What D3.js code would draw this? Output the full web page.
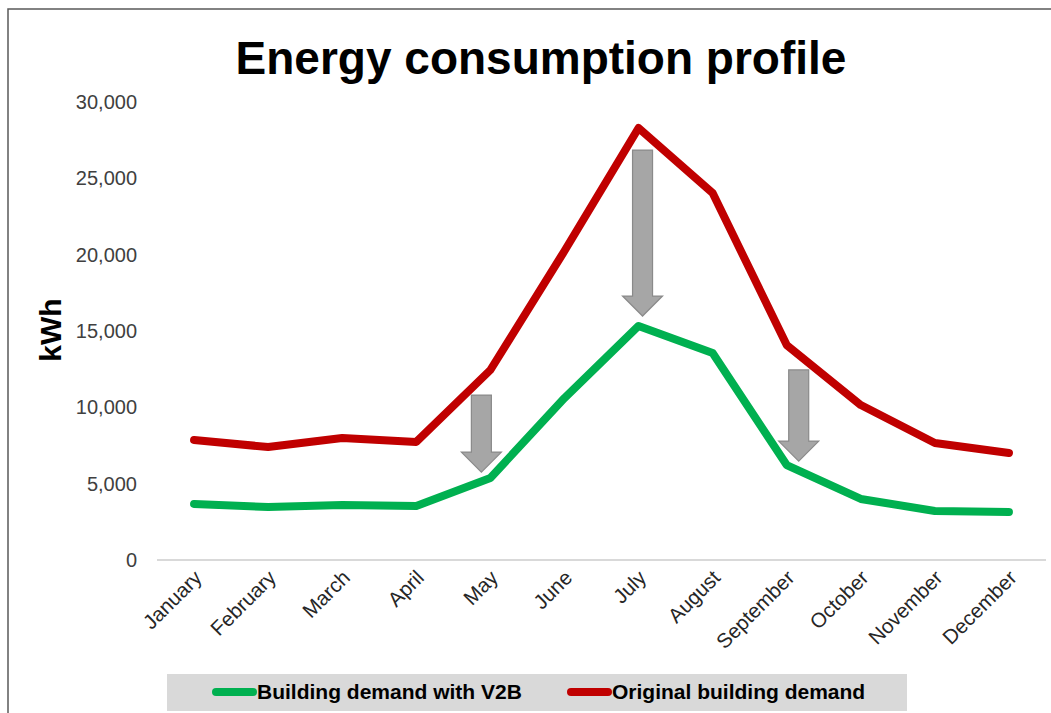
<!DOCTYPE html>
<html>
<head>
<meta charset="utf-8">
<script src="https://cdn.jsdelivr.net/npm/d3@7"></script>
<style>
  html, body { margin: 0; padding: 0; background: #fff; }
  svg { display: block; font-family: "Liberation Sans", Arial, sans-serif; }
</style>
</head>
<body>
<svg id="chart" width="1051" height="713"></svg>
<script>
const months = ["January","February","March","April","May","June","July","August","September","October","November","December"];
const withV2B = [3670, 3470, 3600, 3540, 5370, 10610, 15330, 13560, 6220, 4000, 3210, 3140];
const original = [7860, 7400, 7990, 7730, 12445, 20240, 28300, 24040, 14080, 10150, 7660, 7010];
const yTicks = [0, 5000, 10000, 15000, 20000, 25000, 30000];
const seriesNames = ["Building demand with V2B", "Original building demand"];
const seriesColors = ["#00b050", "#c00000"];
// reduction arrows: month, from value, to value
const arrowMonths = ["May", "July", "September"];
const arrowFrom = [10800, 26850, 12450];
const arrowTo = [5760, 15980, 6480];
const arrowShift = [-9, 4, 12];

const svg = d3.select("#chart");

// outer frame
svg.append("rect").attr("x", 8).attr("y", 9).attr("width", 1100).attr("height", 760)
  .attr("fill", "none").attr("stroke", "#595959").attr("stroke-width", 1.5);

const x = d3.scaleBand().domain(months).range([157, 1046]);
const y = d3.scaleLinear().domain([0, 30000]).range([560, 102]);
const cx = m => x(m) + x.bandwidth() / 2;

// title
svg.append("text").attr("x", 541).attr("y", 74).attr("text-anchor", "middle")
  .attr("font-size", 46).attr("font-weight", "bold").attr("fill", "#000")
  .text("Energy consumption profile");

// y axis
const yAxis = d3.axisLeft(y).tickValues(yTicks).tickFormat(d3.format(",")).tickSize(0).tickPadding(0);
const gy = svg.append("g").attr("transform", "translate(137,0)").call(yAxis);
gy.select(".domain").remove();
gy.selectAll("text").attr("font-size", 20).attr("fill", "#404040")
  .attr("font-family", "Liberation Sans, Arial, sans-serif");

// baseline gridline at 0
svg.append("line").attr("x1", 157).attr("x2", 1046).attr("y1", y(0)).attr("y2", y(0))
  .attr("stroke", "#d9d9d9").attr("stroke-width", 2);

// x axis labels
const xAxis = d3.axisBottom(x).tickSize(0).tickPadding(0);
const gx = svg.append("g").attr("transform", `translate(0,${y(0)})`).call(xAxis);
gx.select(".domain").remove();
gx.selectAll("text")
  .attr("font-size", 20.5).attr("fill", "#262626")
  .attr("font-family", "Liberation Sans, Arial, sans-serif")
  .attr("text-anchor", "end")
  .attr("dy", null).attr("y", null)
  .attr("transform", "translate(9,19) rotate(-45)");

// y axis title
svg.append("text").attr("transform", "translate(61,330) rotate(-90)")
  .attr("text-anchor", "middle").attr("font-size", 30).attr("font-weight", "bold")
  .attr("fill", "#000").text("kWh");

// lines
const line = d3.line().x((d, i) => cx(months[i])).y(d => y(d));
[original, withV2B].forEach((s, k) => {
  svg.append("path").datum(s).attr("d", line).attr("fill", "none")
    .attr("stroke", k === 0 ? seriesColors[1] : seriesColors[0])
    .attr("stroke-width", 8).attr("stroke-linecap", "round").attr("stroke-linejoin", "round");
});

// arrows
arrowMonths.forEach((m, i) => {
  const xc = cx(m) + arrowShift[i];
  const yt = y(arrowFrom[i]), yb = y(arrowTo[i]);
  const sw = 10, hw = 20, hh = 20;
  const pts = [[xc - sw, yt], [xc + sw, yt], [xc + sw, yb - hh], [xc + hw, yb - hh], [xc, yb],
               [xc - hw, yb - hh], [xc - sw, yb - hh]];
  svg.append("path").attr("d", "M" + pts.map(p => p.join(",")).join("L") + "Z")
    .attr("fill", "#a6a6a6").attr("stroke", "#8a8a8a").attr("stroke-width", 1.2);
});

// legend
svg.append("rect").attr("x", 167).attr("y", 674).attr("width", 740).attr("height", 37).attr("fill", "#d9d9d9");
const legX = [212, 567];
seriesNames.forEach((n, i) => {
  svg.append("line").attr("x1", legX[i] + 4).attr("x2", legX[i] + 41).attr("y1", 692).attr("y2", 692)
    .attr("stroke", seriesColors[i]).attr("stroke-width", 8).attr("stroke-linecap", "round");
  svg.append("text").attr("x", legX[i] + 45).attr("y", 699).attr("font-size", 21).attr("font-weight", "bold")
    .attr("fill", "#000").text(n);
});
</script>
</body>
</html>
